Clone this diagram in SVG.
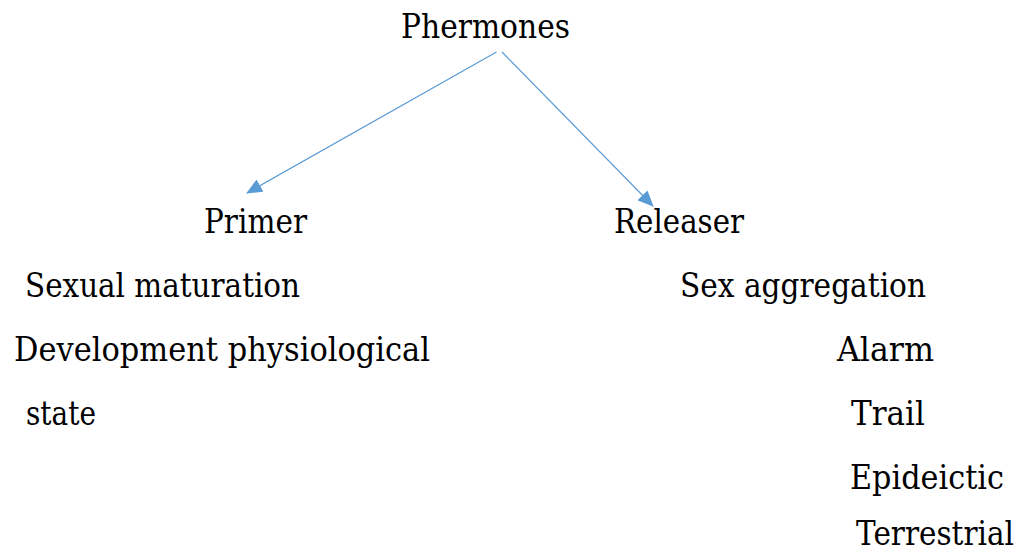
<svg xmlns="http://www.w3.org/2000/svg" width="1022" height="557" viewBox="0 0 1022 557">
<style>
text{font-family:'DejaVu Serif','Liberation Serif',serif;font-size:34px;fill:#000}
.c{stroke:#5B9BD5;stroke-width:1.2;fill:none}
</style>
<defs>
<marker id="ah" markerUnits="userSpaceOnUse" markerWidth="16" markerHeight="14" refX="15" refY="7" orient="auto">
<path d="M0,0 L16,7 L0,14 Z" fill="#5B9BD5"/>
</marker>
</defs>
<rect width="1022" height="557" fill="#fff"/>
<g id="connectors">
<line class="c" x1="496.5" y1="52" x2="247" y2="193" marker-end="url(#ah)"/>
<line class="c" x1="502" y1="52" x2="653" y2="206" marker-end="url(#ah)"/>
</g>
<g id="phermones"><text x="401" y="38" textLength="169" lengthAdjust="spacingAndGlyphs">Phermones</text></g>
<g id="primer"><text x="204" y="233" textLength="103" lengthAdjust="spacingAndGlyphs">Primer</text></g>
<g id="releaser"><text x="614" y="233" textLength="130" lengthAdjust="spacingAndGlyphs">Releaser</text></g>
<g id="primer-items">
<text x="25" y="297" textLength="275" lengthAdjust="spacingAndGlyphs">Sexual maturation</text>
<text x="14" y="361" textLength="416" lengthAdjust="spacingAndGlyphs">Development physiological</text>
<text x="26" y="425" textLength="70" lengthAdjust="spacingAndGlyphs">state</text>
</g>
<g id="releaser-items">
<text x="680" y="297" textLength="246" lengthAdjust="spacingAndGlyphs">Sex aggregation</text>
<text x="837" y="361" textLength="97" lengthAdjust="spacingAndGlyphs">Alarm</text>
<text x="851" y="425" textLength="74" lengthAdjust="spacingAndGlyphs">Trail</text>
<text x="850" y="489" textLength="154" lengthAdjust="spacingAndGlyphs">Epideictic</text>
<text x="856" y="545" textLength="158" lengthAdjust="spacingAndGlyphs">Terrestrial</text>
</g>
</svg>
